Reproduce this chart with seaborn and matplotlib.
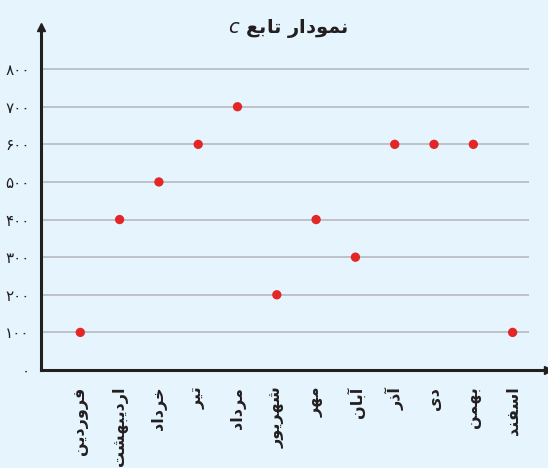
import numpy as np
import pandas as pd
import matplotlib
matplotlib.use('Agg')
import matplotlib.pyplot as plt
import seaborn as sns

# data
months = ['فروردین', 'اردیبهشت', 'خرداد', 'تیر', 'مرداد', 'شهریور',
          'مهر', 'آبان', 'آذر', 'دی', 'بهمن', 'اسفند']
values = [100, 400, 500, 600, 700, 200, 400, 300, 600, 600, 600, 100]
y_ticks = [0, 100, 200, 300, 400, 500, 600, 700, 800]
title = 'نمودار تابع'

# minimal Persian shaping (matplotlib has no Arabic shaping)
# letter: (isolated, final, initial, medial)
FORMS = {
    'ا': ('\ufe8d', '\ufe8e', None, None),
    'آ': ('\ufe81', '\ufe82', None, None),
    'ب': ('\ufe8f', '\ufe90', '\ufe91', '\ufe92'),
    'ت': ('\ufe95', '\ufe96', '\ufe97', '\ufe98'),
    'خ': ('\ufea5', '\ufea6', '\ufea7', '\ufea8'),
    'د': ('\ufea9', '\ufeaa', None, None),
    'ذ': ('\ufeab', '\ufeac', None, None),
    'ر': ('\ufead', '\ufeae', None, None),
    'ز': ('\ufeaf', '\ufeb0', None, None),
    'س': ('\ufeb1', '\ufeb2', '\ufeb3', '\ufeb4'),
    'ش': ('\ufeb5', '\ufeb6', '\ufeb7', '\ufeb8'),
    'ع': ('\ufec9', '\ufeca', '\ufecb', '\ufecc'),
    'ف': ('\ufed1', '\ufed2', '\ufed3', '\ufed4'),
    'م': ('\ufee1', '\ufee2', '\ufee3', '\ufee4'),
    'ن': ('\ufee5', '\ufee6', '\ufee7', '\ufee8'),
    'ه': ('\ufee9', '\ufeea', '\ufeeb', '\ufeec'),
    'و': ('\ufeed', '\ufeee', None, None),
    'ی': ('\ufeef', '\ufef0', '\ufef3', '\ufef4'),
}


def dual(ch):
    return ch in FORMS and FORMS[ch][2] is not None


def shape(text):
    out = []
    for i, ch in enumerate(text):
        if ch not in FORMS:
            out.append(ch)
            continue
        prev = text[i - 1] if i > 0 else ''
        nxt = text[i + 1] if i + 1 < len(text) else ''
        jp = dual(prev)
        jn = dual(ch) and nxt in FORMS
        iso, fin, ini, med = FORMS[ch]
        if jp and jn:
            out.append(med)
        elif jp:
            out.append(fin)
        elif jn:
            out.append(ini)
        else:
            out.append(iso)
    return ''.join(reversed(out))


def fa_digits(n):
    return ''.join(chr(0x06F0 + int(d)) for d in str(n))


bg = '#e6f5fd'
ink = '#231f20'
sns.set_style('white', rc={'axes.facecolor': bg, 'figure.facecolor': bg})
plt.rcParams['font.family'] = ['DejaVu Sans']

df = pd.DataFrame({'x': np.arange(1, len(months) + 1), 'value': values})

fig = plt.figure(figsize=(5.48, 4.68), dpi=100)
ax = fig.add_axes([41 / 548, (468 - 370) / 468, (548 - 41) / 548, (370 - 27) / 468])

ax.set_xlim(0, 12.9)
ax.set_ylim(0, 912)

for v in y_ticks[1:]:
    ax.hlines(v, 0, 12.42, color='#b9bec3', lw=1.3, zorder=1)

sns.scatterplot(data=df, x='x', y='value', ax=ax, color='#e32726', s=45,
                edgecolor='none', zorder=3, legend=False)

for s in ['top', 'right']:
    ax.spines[s].set_visible(False)
for s in ['left', 'bottom']:
    ax.spines[s].set_color(ink)
    ax.spines[s].set_linewidth(2.2)
ax.plot(1, 0, '>', color=ink, ms=6, transform=ax.transAxes, clip_on=False)
ax.plot(0, 1, '^', color=ink, ms=6, transform=ax.transAxes, clip_on=False)

ax.set_yticks(y_ticks)
ax.set_yticklabels([fa_digits(v) for v in y_ticks], fontsize=11, color=ink)
ax.set_xticks(range(0, len(months) + 1))
ax.set_xticklabels([''] + [shape(m) for m in months], rotation=90,
                   fontsize=11.5, fontweight='bold', color=ink)
ax.tick_params(axis='x', direction='out', length=4, width=1.5, color=ink, pad=8)
ax.tick_params(axis='y', direction='out', length=2, width=1.5, color=ink, pad=6)
ax.set_xlabel('')
ax.set_ylabel('')

fig.text(288 / 548, 1 - 29 / 468, '$c$ ' + shape(title), ha='center', va='center',
         fontsize=14, fontweight='bold', color=ink)

fig.savefig('out.png', dpi=100, facecolor=bg)
